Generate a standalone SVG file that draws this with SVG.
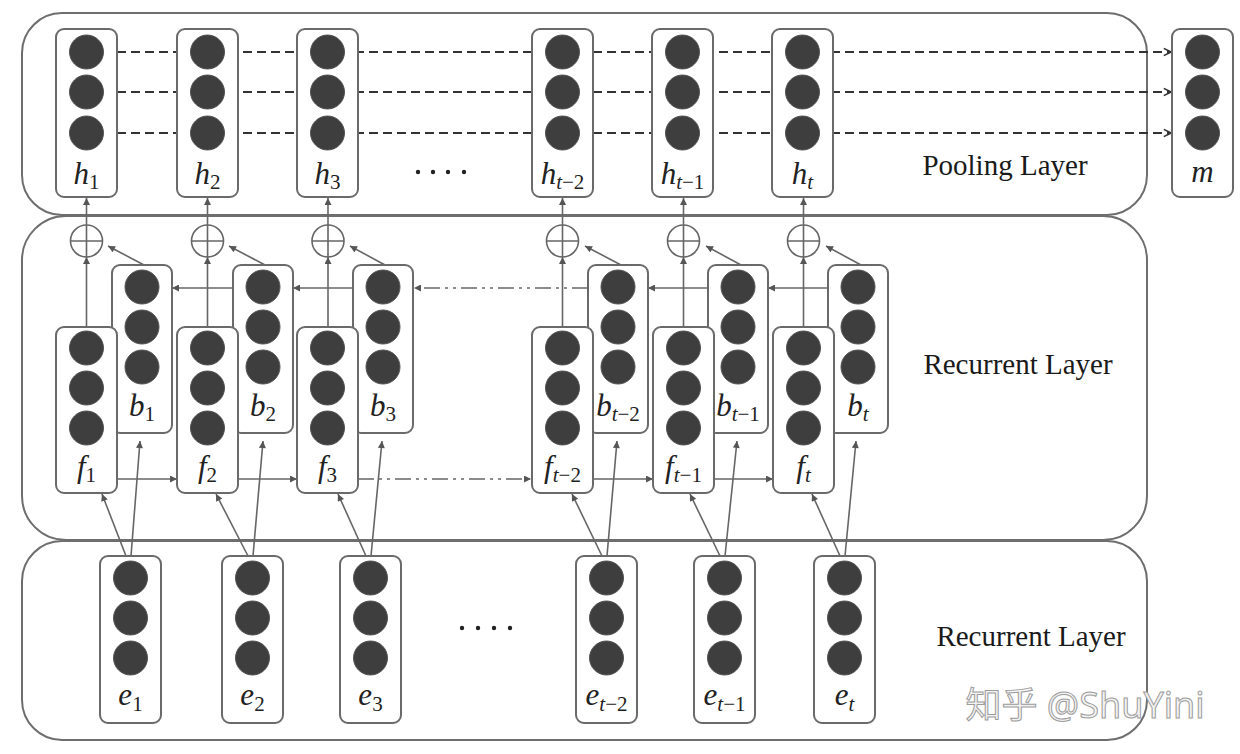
<svg xmlns="http://www.w3.org/2000/svg" width="1240" height="754" viewBox="0 0 1240 754">
<style>
.panel{fill:#fff;stroke:#6e6e6e;stroke-width:2}
.box{fill:#fff;stroke:#6a6a6a;stroke-width:2}
.dot{fill:#3e3e3e;stroke:#555;stroke-width:1}
.lbl{font-family:"Liberation Serif","Times New Roman",serif;font-style:italic;font-size:31px;fill:#222;text-anchor:middle}
.sub{font-style:normal;font-size:21px}
.subi{font-style:italic;font-size:21px}
.title{font-family:"Liberation Serif","Times New Roman",serif;font-size:29px;fill:#1a1a1a;text-anchor:middle}
.conn{fill:none;stroke:#666;stroke-width:1.6}
.dash{fill:none;stroke:#333;stroke-width:1.8;stroke-dasharray:9 5}
.dd{fill:none;stroke:#666;stroke-width:1.6;stroke-dasharray:16 5 3 5 3 5}
.op{fill:#fff;stroke:#666;stroke-width:1.6}
.ell{fill:#222}
</style>
<defs>
<marker id="ah" viewBox="0 0 10 10" refX="10" refY="5" markerWidth="9" markerHeight="7" markerUnits="userSpaceOnUse" orient="auto"><path d="M0,0 L10,5 L0,10 z" fill="#555"/></marker>
<marker id="chev" viewBox="0 0 10 10" refX="9" refY="5" markerWidth="9" markerHeight="10" markerUnits="userSpaceOnUse" orient="auto"><path d="M1,1 L9,5 L1,9" fill="none" stroke="#333" stroke-width="1.8"/></marker>
</defs>
<rect width="1240" height="754" fill="#fff"/>
<g id="panels">
<rect id="pooling-panel" class="panel" x="22" y="13" width="1125" height="202" rx="40"/>
<rect id="recurrent-panel" class="panel" x="22" y="216" width="1125" height="324" rx="44"/>
<rect id="embedding-panel" class="panel" x="22" y="541" width="1125" height="199" rx="40"/>
<text class="title" x="1005" y="175">Pooling Layer</text>
<text class="title" x="1018" y="374">Recurrent Layer</text>
<text class="title" x="1031" y="646">Recurrent Layer</text>
</g>
<g id="connectors">
<line class="dash" x1="117" y1="52" x2="1171" y2="52" marker-end="url(#chev)"/>
<line class="dash" x1="117" y1="92" x2="1171" y2="92" marker-end="url(#chev)"/>
<line class="dash" x1="117" y1="133" x2="1171" y2="133" marker-end="url(#chev)"/>
<line class="conn" x1="117" y1="479" x2="177" y2="479" marker-end="url(#ah)"/>
<line class="conn" x1="238" y1="479" x2="297" y2="479" marker-end="url(#ah)"/>
<line class="dd" x1="358" y1="479" x2="531" y2="479" marker-end="url(#ah)"/>
<line class="conn" x1="593" y1="479" x2="653" y2="479" marker-end="url(#ah)"/>
<line class="conn" x1="714" y1="479" x2="773" y2="479" marker-end="url(#ah)"/>
<line class="conn" x1="233" y1="288" x2="172" y2="288" marker-end="url(#ah)"/>
<line class="conn" x1="353" y1="288" x2="293" y2="288" marker-end="url(#ah)"/>
<line class="dd" x1="588" y1="288" x2="414" y2="288" marker-end="url(#ah)"/>
<line class="conn" x1="708" y1="288" x2="648" y2="288" marker-end="url(#ah)"/>
<line class="conn" x1="828" y1="288" x2="768" y2="288" marker-end="url(#ah)"/>
<line class="conn" x1="86.5" y1="327" x2="86.5" y2="257" marker-end="url(#ah)"/>
<line class="conn" x1="207.5" y1="327" x2="207.5" y2="257" marker-end="url(#ah)"/>
<line class="conn" x1="328" y1="327" x2="328" y2="257" marker-end="url(#ah)"/>
<line class="conn" x1="562.5" y1="327" x2="562.5" y2="257" marker-end="url(#ah)"/>
<line class="conn" x1="683.5" y1="327" x2="683.5" y2="257" marker-end="url(#ah)"/>
<line class="conn" x1="803.5" y1="327" x2="803.5" y2="257" marker-end="url(#ah)"/>
<line class="conn" x1="86.5" y1="225" x2="86.5" y2="198" marker-end="url(#ah)"/>
<line class="conn" x1="207.5" y1="225" x2="207.5" y2="198" marker-end="url(#ah)"/>
<line class="conn" x1="328" y1="225" x2="328" y2="198" marker-end="url(#ah)"/>
<line class="conn" x1="562.5" y1="225" x2="562.5" y2="198" marker-end="url(#ah)"/>
<line class="conn" x1="683.5" y1="225" x2="683.5" y2="198" marker-end="url(#ah)"/>
<line class="conn" x1="803.5" y1="225" x2="803.5" y2="198" marker-end="url(#ah)"/>
<line class="conn" x1="144" y1="265" x2="108" y2="246" marker-end="url(#ah)"/>
<line class="conn" x1="265" y1="265" x2="229" y2="246" marker-end="url(#ah)"/>
<line class="conn" x1="385" y1="265" x2="350" y2="246" marker-end="url(#ah)"/>
<line class="conn" x1="621" y1="265" x2="585" y2="246" marker-end="url(#ah)"/>
<line class="conn" x1="741" y1="265" x2="706" y2="246" marker-end="url(#ah)"/>
<line class="conn" x1="861" y1="265" x2="826" y2="246" marker-end="url(#ah)"/>
<line class="conn" x1="126" y1="556" x2="102" y2="494" marker-end="url(#ah)"/>
<line class="conn" x1="131" y1="556" x2="140" y2="441" marker-end="url(#ah)"/>
<line class="conn" x1="248" y1="556" x2="216" y2="494" marker-end="url(#ah)"/>
<line class="conn" x1="253" y1="556" x2="263" y2="441" marker-end="url(#ah)"/>
<line class="conn" x1="366" y1="556" x2="338" y2="494" marker-end="url(#ah)"/>
<line class="conn" x1="371" y1="556" x2="382" y2="441" marker-end="url(#ah)"/>
<line class="conn" x1="602" y1="556" x2="572" y2="494" marker-end="url(#ah)"/>
<line class="conn" x1="607" y1="556" x2="617" y2="441" marker-end="url(#ah)"/>
<line class="conn" x1="720" y1="556" x2="690" y2="494" marker-end="url(#ah)"/>
<line class="conn" x1="725" y1="556" x2="737" y2="441" marker-end="url(#ah)"/>
<line class="conn" x1="840" y1="556" x2="812" y2="494" marker-end="url(#ah)"/>
<line class="conn" x1="845" y1="556" x2="856" y2="441" marker-end="url(#ah)"/>
</g>
<g id="oplus">
<g id="op1"><circle class="op" cx="86.5" cy="241" r="16"/><path class="conn" d="M70.5,241 H102.5 M86.5,225 V257"/></g>
<g id="op2"><circle class="op" cx="207.5" cy="241" r="16"/><path class="conn" d="M191.5,241 H223.5 M207.5,225 V257"/></g>
<g id="op3"><circle class="op" cx="328" cy="241" r="16"/><path class="conn" d="M312,241 H344 M328,225 V257"/></g>
<g id="op4"><circle class="op" cx="562.5" cy="241" r="16"/><path class="conn" d="M546.5,241 H578.5 M562.5,225 V257"/></g>
<g id="op5"><circle class="op" cx="683.5" cy="241" r="16"/><path class="conn" d="M667.5,241 H699.5 M683.5,225 V257"/></g>
<g id="op6"><circle class="op" cx="803.5" cy="241" r="16"/><path class="conn" d="M787.5,241 H819.5 M803.5,225 V257"/></g>
</g>
<g id="h-nodes">
<g id="h1"><rect class="box" x="56" y="29" width="61" height="168" rx="8"/><circle class="dot" cx="86.5" cy="52" r="17"/><circle class="dot" cx="86.5" cy="92" r="17"/><circle class="dot" cx="86.5" cy="133" r="17"/><text class="lbl" x="86.5" y="184">h<tspan class="sub" dy="5">1</tspan></text></g>
<g id="h2"><rect class="box" x="177" y="29" width="61" height="168" rx="8"/><circle class="dot" cx="207.5" cy="52" r="17"/><circle class="dot" cx="207.5" cy="92" r="17"/><circle class="dot" cx="207.5" cy="133" r="17"/><text class="lbl" x="207.5" y="184">h<tspan class="sub" dy="5">2</tspan></text></g>
<g id="h3"><rect class="box" x="297" y="29" width="61" height="168" rx="8"/><circle class="dot" cx="327.5" cy="52" r="17"/><circle class="dot" cx="327.5" cy="92" r="17"/><circle class="dot" cx="327.5" cy="133" r="17"/><text class="lbl" x="327.5" y="184">h<tspan class="sub" dy="5">3</tspan></text></g>
<g id="h4"><rect class="box" x="532" y="29" width="61" height="168" rx="8"/><circle class="dot" cx="562.5" cy="52" r="17"/><circle class="dot" cx="562.5" cy="92" r="17"/><circle class="dot" cx="562.5" cy="133" r="17"/><text class="lbl" x="562.5" y="184">h<tspan class="subi" dy="5">t</tspan><tspan class="sub">−2</tspan></text></g>
<g id="h5"><rect class="box" x="652" y="29" width="61" height="168" rx="8"/><circle class="dot" cx="682.5" cy="52" r="17"/><circle class="dot" cx="682.5" cy="92" r="17"/><circle class="dot" cx="682.5" cy="133" r="17"/><text class="lbl" x="682.5" y="184">h<tspan class="subi" dy="5">t</tspan><tspan class="sub">−1</tspan></text></g>
<g id="h6"><rect class="box" x="772" y="29" width="61" height="168" rx="8"/><circle class="dot" cx="802.5" cy="52" r="17"/><circle class="dot" cx="802.5" cy="92" r="17"/><circle class="dot" cx="802.5" cy="133" r="17"/><text class="lbl" x="802.5" y="184">h<tspan class="subi" dy="5">t</tspan></text></g>
<g id="m"><rect class="box" x="1172" y="29" width="61" height="168" rx="8"/><circle class="dot" cx="1202.5" cy="52" r="17"/><circle class="dot" cx="1202.5" cy="92" r="17"/><circle class="dot" cx="1202.5" cy="133" r="17"/><text class="lbl" x="1202.5" y="182">m</text></g>
<g id="dots-top"><circle class="ell" cx="418" cy="172" r="2.2"/><circle class="ell" cx="433" cy="172" r="2.2"/><circle class="ell" cx="448" cy="172" r="2.2"/><circle class="ell" cx="464" cy="172" r="2.2"/></g>
</g>
<g id="b-nodes">
<g id="b1"><rect class="box" x="112" y="265" width="60" height="168" rx="8"/><circle class="dot" cx="142" cy="287" r="17"/><circle class="dot" cx="142" cy="327" r="17"/><circle class="dot" cx="142" cy="367" r="17"/><text class="lbl" x="142" y="416">b<tspan class="sub" dy="5">1</tspan></text></g>
<g id="b2"><rect class="box" x="233" y="265" width="60" height="168" rx="8"/><circle class="dot" cx="263" cy="287" r="17"/><circle class="dot" cx="263" cy="327" r="17"/><circle class="dot" cx="263" cy="367" r="17"/><text class="lbl" x="263" y="416">b<tspan class="sub" dy="5">2</tspan></text></g>
<g id="b3"><rect class="box" x="353" y="265" width="60" height="168" rx="8"/><circle class="dot" cx="383" cy="287" r="17"/><circle class="dot" cx="383" cy="327" r="17"/><circle class="dot" cx="383" cy="367" r="17"/><text class="lbl" x="383" y="416">b<tspan class="sub" dy="5">3</tspan></text></g>
<g id="b4"><rect class="box" x="588" y="265" width="60" height="168" rx="8"/><circle class="dot" cx="618" cy="287" r="17"/><circle class="dot" cx="618" cy="327" r="17"/><circle class="dot" cx="618" cy="367" r="17"/><text class="lbl" x="618" y="416">b<tspan class="subi" dy="5">t</tspan><tspan class="sub">−2</tspan></text></g>
<g id="b5"><rect class="box" x="708" y="265" width="60" height="168" rx="8"/><circle class="dot" cx="738" cy="287" r="17"/><circle class="dot" cx="738" cy="327" r="17"/><circle class="dot" cx="738" cy="367" r="17"/><text class="lbl" x="738" y="416">b<tspan class="subi" dy="5">t</tspan><tspan class="sub">−1</tspan></text></g>
<g id="b6"><rect class="box" x="828" y="265" width="60" height="168" rx="8"/><circle class="dot" cx="858" cy="287" r="17"/><circle class="dot" cx="858" cy="327" r="17"/><circle class="dot" cx="858" cy="367" r="17"/><text class="lbl" x="858" y="416">b<tspan class="subi" dy="5">t</tspan></text></g>
</g>
<g id="f-nodes">
<g id="f1"><rect class="box" x="56" y="327" width="61" height="166" rx="8"/><circle class="dot" cx="86.5" cy="348" r="17"/><circle class="dot" cx="86.5" cy="388" r="17"/><circle class="dot" cx="86.5" cy="428" r="17"/><text class="lbl" x="86.5" y="477">f<tspan class="sub" dy="5">1</tspan></text></g>
<g id="f2"><rect class="box" x="177" y="327" width="61" height="166" rx="8"/><circle class="dot" cx="207.5" cy="348" r="17"/><circle class="dot" cx="207.5" cy="388" r="17"/><circle class="dot" cx="207.5" cy="428" r="17"/><text class="lbl" x="207.5" y="477">f<tspan class="sub" dy="5">2</tspan></text></g>
<g id="f3"><rect class="box" x="297" y="327" width="61" height="166" rx="8"/><circle class="dot" cx="327.5" cy="348" r="17"/><circle class="dot" cx="327.5" cy="388" r="17"/><circle class="dot" cx="327.5" cy="428" r="17"/><text class="lbl" x="327.5" y="477">f<tspan class="sub" dy="5">3</tspan></text></g>
<g id="f4"><rect class="box" x="532" y="327" width="61" height="166" rx="8"/><circle class="dot" cx="562.5" cy="348" r="17"/><circle class="dot" cx="562.5" cy="388" r="17"/><circle class="dot" cx="562.5" cy="428" r="17"/><text class="lbl" x="562.5" y="477">f<tspan class="subi" dy="5">t</tspan><tspan class="sub">−2</tspan></text></g>
<g id="f5"><rect class="box" x="653" y="327" width="61" height="166" rx="8"/><circle class="dot" cx="683.5" cy="348" r="17"/><circle class="dot" cx="683.5" cy="388" r="17"/><circle class="dot" cx="683.5" cy="428" r="17"/><text class="lbl" x="683.5" y="477">f<tspan class="subi" dy="5">t</tspan><tspan class="sub">−1</tspan></text></g>
<g id="f6"><rect class="box" x="773" y="327" width="61" height="166" rx="8"/><circle class="dot" cx="803.5" cy="348" r="17"/><circle class="dot" cx="803.5" cy="388" r="17"/><circle class="dot" cx="803.5" cy="428" r="17"/><text class="lbl" x="803.5" y="477">f<tspan class="subi" dy="5">t</tspan></text></g>
</g>
<g id="e-nodes">
<g id="e1"><rect class="box" x="100" y="556" width="61" height="167" rx="8"/><circle class="dot" cx="130.5" cy="578" r="17"/><circle class="dot" cx="130.5" cy="618" r="17"/><circle class="dot" cx="130.5" cy="658" r="17"/><text class="lbl" x="130.5" y="705">e<tspan class="sub" dy="6">1</tspan></text></g>
<g id="e2"><rect class="box" x="222" y="556" width="61" height="167" rx="8"/><circle class="dot" cx="252.5" cy="578" r="17"/><circle class="dot" cx="252.5" cy="618" r="17"/><circle class="dot" cx="252.5" cy="658" r="17"/><text class="lbl" x="252.5" y="705">e<tspan class="sub" dy="6">2</tspan></text></g>
<g id="e3"><rect class="box" x="340" y="556" width="61" height="167" rx="8"/><circle class="dot" cx="370.5" cy="578" r="17"/><circle class="dot" cx="370.5" cy="618" r="17"/><circle class="dot" cx="370.5" cy="658" r="17"/><text class="lbl" x="370.5" y="705">e<tspan class="sub" dy="6">3</tspan></text></g>
<g id="e4"><rect class="box" x="576" y="556" width="61" height="167" rx="8"/><circle class="dot" cx="606.5" cy="578" r="17"/><circle class="dot" cx="606.5" cy="618" r="17"/><circle class="dot" cx="606.5" cy="658" r="17"/><text class="lbl" x="606.5" y="705">e<tspan class="subi" dy="6">t</tspan><tspan class="sub">−2</tspan></text></g>
<g id="e5"><rect class="box" x="694" y="556" width="61" height="167" rx="8"/><circle class="dot" cx="724.5" cy="578" r="17"/><circle class="dot" cx="724.5" cy="618" r="17"/><circle class="dot" cx="724.5" cy="658" r="17"/><text class="lbl" x="724.5" y="705">e<tspan class="subi" dy="6">t</tspan><tspan class="sub">−1</tspan></text></g>
<g id="e6"><rect class="box" x="814" y="556" width="61" height="167" rx="8"/><circle class="dot" cx="844.5" cy="578" r="17"/><circle class="dot" cx="844.5" cy="618" r="17"/><circle class="dot" cx="844.5" cy="658" r="17"/><text class="lbl" x="844.5" y="705">e<tspan class="subi" dy="6">t</tspan></text></g>
<g id="dots-bottom"><circle class="ell" cx="462" cy="628" r="2.2"/><circle class="ell" cx="478" cy="628" r="2.2"/><circle class="ell" cx="494" cy="628" r="2.2"/><circle class="ell" cx="510" cy="628" r="2.2"/></g>
</g>
<text id="watermark" x="1085" y="718" font-family="'Noto Sans','Noto Sans CJK SC',sans-serif" font-size="36" fill="#f2f2f2" stroke="#9c9c9c" stroke-width="1" text-anchor="middle">知乎 @ShuYini</text>
</svg>
